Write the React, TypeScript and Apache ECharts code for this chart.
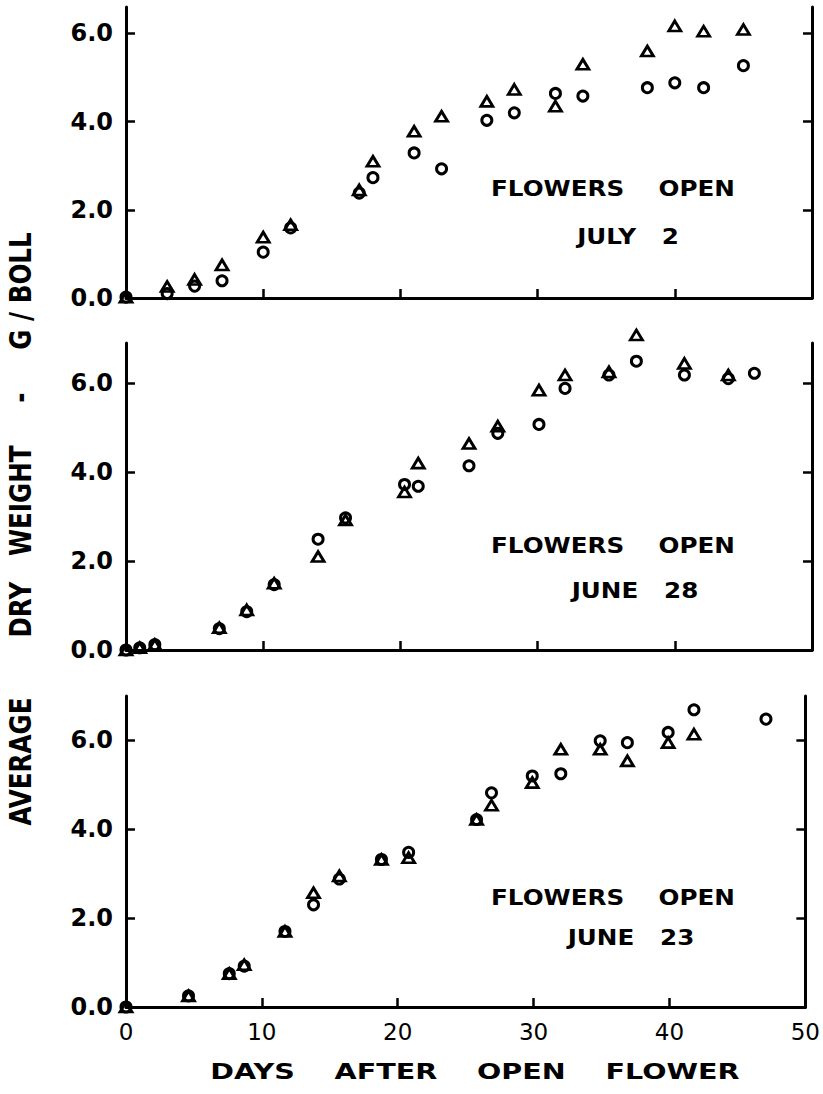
import React, { useEffect, useRef } from "react";
import * as echarts from "echarts";

// ---- Panel 1: flowers open July 2 ----
const daysJul2 = [0, 3, 5, 7, 10, 12, 17, 18, 21, 23, 26.3, 28.3, 31.3, 33.3, 38, 40, 42.1, 45];
const triJul2 = [0.02, 0.26, 0.42, 0.75, 1.38, 1.66, 2.45, 3.1, 3.78, 4.12, 4.46, 4.73, 4.35, 5.3, 5.6, 6.17, 6.05, 6.09];
const circJul2 = [0.02, 0.1, 0.27, 0.39, 1.04, 1.59, 2.38, 2.73, 3.29, 2.93, 4.03, 4.2, 4.64, 4.58, 4.77, 4.88, 4.77, 5.27];

// ---- Panel 2: flowers open June 28 ----
const daysJun28 = [0, 1, 2.1, 6.8, 8.8, 10.8, 14, 16, 20.3, 21.3, 25, 27.1, 30.1, 32, 35.2, 37.2, 40.7, 43.9, 45.8];
const triJun28 = [0, 0.05, 0.12, 0.5, 0.9, 1.5, 2.1, 2.92, 3.55, 4.2, 4.64, 5.03, 5.84, 6.18, 6.25, 7.08, 6.44, 6.18, null];
const circJun28 = [0, 0.05, 0.12, 0.48, 0.86, 1.47, 2.49, 2.97, 3.72, 3.68, 4.14, 4.87, 5.07, 5.88, 6.18, 6.49, 6.18, 6.1, 6.22];

// ---- Panel 3: flowers open June 23 ----
const daysJun23 = [0, 4.6, 7.6, 8.7, 11.7, 13.8, 15.7, 18.8, 20.8, 25.8, 26.9, 29.9, 32, 34.9, 36.9, 39.9, 41.8, 47.1];
const triJun23 = [0, 0.25, 0.75, 0.95, 1.7, 2.57, 2.95, 3.32, 3.36, 4.22, 4.54, 5.05, 5.8, 5.8, 5.54, 5.95, 6.14, null];
const circJun23 = [0, 0.25, 0.75, 0.92, 1.7, 2.3, 2.88, 3.32, 3.48, 4.22, 4.82, 5.2, 5.25, 5.99, 5.95, 6.18, 6.69, 6.48];

const yTicks = [0, 2, 4, 6];
const xTickLabels = ["0", "10", "20", "30", "40", "50"];
const panelMax = [6.6, 6.9, 7.0];
const panelTitles = ["FLOWERS    OPEN", "FLOWERS    OPEN", "FLOWERS    OPEN"];
const panelDates = ["JULY   2", "JUNE   28", "JUNE   23"];

const FONT = "DejaVu Sans";

function pairs(xs: number[], ys: (number | null)[]) {
  const out: number[][] = [];
  xs.forEach((x, i) => {
    const y = ys[i];
    if (y !== null && y !== undefined) out.push([x, y]);
  });
  return out;
}

export default function App() {
  const ref = useRef<HTMLDivElement>(null);
  useEffect(() => {
    document.body.style.margin = "0";
    const chart = echarts.init(ref.current!, null, { renderer: "svg" });
    const grids = [
      { left: 126, right: 11, top: 7, height: 291 },
      { left: 126, right: 11, top: 343, height: 307 },
      { left: 126, right: 11, top: 696, height: 311 },
    ];
    const axisLine = { show: true, onZero: false, lineStyle: { color: "#000", width: 3 } };
    const xAxis = grids.map((_, i) => ({
      gridIndex: i,
      type: "value",
      min: 0,
      max: 50,
      interval: 10,
      axisLine,
      axisTick: { show: true, inside: true, length: 9, lineStyle: { color: "#000", width: 2.5 } },
      splitLine: { show: false },
      axisLabel:
        i === 2
          ? {
              show: true,
              margin: 13,
              color: "#000",
              fontFamily: FONT,
              fontSize: 23,
              formatter: (v: number) => xTickLabels[Math.round(v / 10)] ?? "",
            }
          : { show: false },
    }));
    const yAxis: any[] = [];
    grids.forEach((_, i) => {
      yAxis.push({
        gridIndex: i,
        type: "value",
        position: "left",
        min: 0,
        max: panelMax[i],
        axisLine,
        axisTick: {
          show: true,
          inside: true,
          length: 9,
          customValues: yTicks,
          lineStyle: { color: "#000", width: 2.5 },
        },
        splitLine: { show: false },
        axisLabel: {
          show: true,
          customValues: yTicks,
          margin: 13,
          color: "#000",
          fontFamily: FONT,
          fontWeight: "bold",
          fontSize: 24,
          formatter: (v: number) => v.toFixed(1),
        },
      });
      yAxis.push({
        gridIndex: i,
        type: "value",
        position: "right",
        min: 0,
        max: panelMax[i],
        axisLine,
        axisTick: {
          show: true,
          inside: true,
          length: 9,
          customValues: yTicks,
          lineStyle: { color: "#000", width: 2.5 },
        },
        splitLine: { show: false },
        axisLabel: { show: false },
      });
    });

    const circleStyle = {
      type: "scatter",
      symbol: "circle",
      symbolSize: 10,
      clip: false,
      silent: true,
      itemStyle: { color: "rgba(0,0,0,0)", borderColor: "#000", borderWidth: 3, opacity: 1 },
    };
    const triStyle = {
      type: "scatter",
      symbol: "triangle",
      symbolSize: [12, 10],
      clip: false,
      silent: true,
      itemStyle: { color: "rgba(0,0,0,0)", borderColor: "#000", borderWidth: 2.8, opacity: 1 },
    };
    const sets = [
      [daysJul2, circJul2, triJul2],
      [daysJun28, circJun28, triJun28],
      [daysJun23, circJun23, triJun23],
    ] as const;
    const series: any[] = [];
    sets.forEach(([d, c, t], i) => {
      series.push({ ...circleStyle, name: "circle" + i, xAxisIndex: i, yAxisIndex: i * 2, data: pairs(d as number[], c as any) });
      series.push({ ...triStyle, name: "triangle" + i, xAxisIndex: i, yAxisIndex: i * 2, data: pairs(d as number[], t as any) });
    });

    const titleY = [188, 545, 897];
    const dateY = [236, 590, 937];
    const dateX = [628, 635, 631];
    const graphic: any[] = [];
    panelTitles.forEach((t, i) => {
      graphic.push({
        type: "text",
        x: 491,
        y: titleY[i],
        scaleX: 1.12,
        silent: true,
        style: { text: t, fill: "#000", fontFamily: FONT, fontWeight: "bold", fontSize: 22, align: "left", verticalAlign: "middle" },
      });
      graphic.push({
        type: "text",
        x: dateX[i],
        y: dateY[i],
        scaleX: 1.12,
        silent: true,
        style: { text: panelDates[i], fill: "#000", fontFamily: FONT, fontWeight: "bold", fontSize: 22, align: "center", verticalAlign: "middle" },
      });
    });
    graphic.push({
      type: "text",
      x: 475,
      y: 1071,
      scaleX: 1.3,
      silent: true,
      style: {
        text: "DAYS    AFTER    OPEN    FLOWER",
        fill: "#000",
        fontFamily: FONT,
        fontWeight: "bold",
        fontSize: 22,
        align: "center",
        verticalAlign: "middle",
      },
    });
    graphic.push({
      type: "text",
      x: 21,
      y: 529,
      rotation: Math.PI / 2,
      scaleX: 0.82,
      silent: true,
      style: {
        text: "AVERAGE       DRY   WEIGHT     -     G / BOLL",
        fill: "#000",
        fontFamily: FONT,
        fontWeight: "bold",
        fontSize: 30,
        align: "center",
        verticalAlign: "middle",
      },
    });

    chart.setOption({
      animation: false,
      backgroundColor: "#fff",
      grid: grids,
      xAxis,
      yAxis,
      series,
      graphic,
    });
    return () => chart.dispose();
  }, []);
  return <div ref={ref} style={{ position: "absolute", left: 0, top: 0, width: 823, height: 1094 }} />;
}
